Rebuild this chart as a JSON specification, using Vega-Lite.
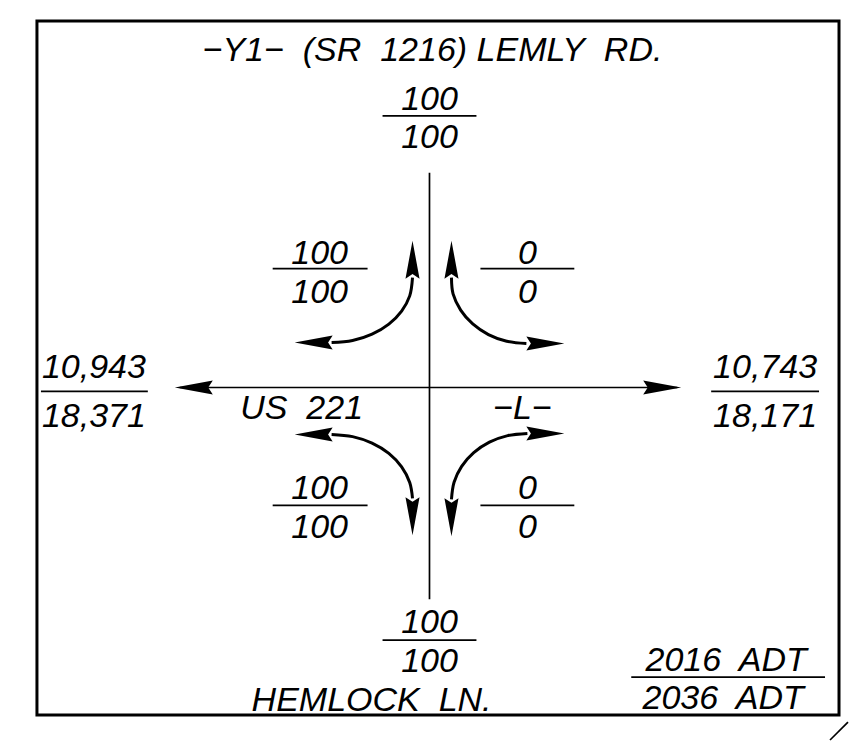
{
  "$schema": "https://vega.github.io/schema/vega-lite/v6.json",
  "width": 849,
  "height": 741,
  "autosize": {"type": "fit", "contains": "padding"},
  "padding": 0,
  "background": "white",
  "config": {"view": {"stroke": null}},
  "datasets": {
    "frame": [{"x0": -393, "x1": 410, "y0": 367, "y1": -328}],
    "segments": [
      {"part": "road N-S", "x": 0, "y": 215, "x2": 0, "y2": -212},
      {"part": "road E-W", "x": -250, "y": 0, "x2": 248, "y2": 0},
      {"part": "bar top", "x": -47, "y": 272, "x2": 47, "y2": 272},
      {"part": "bar NW", "x": -157, "y": 119, "x2": -62, "y2": 119},
      {"part": "bar NE", "x": 51, "y": 119, "x2": 145, "y2": 119},
      {"part": "bar W", "x": -389, "y": -4, "x2": -282, "y2": -4},
      {"part": "bar E", "x": 282, "y": -4, "x2": 390, "y2": -4},
      {"part": "bar SW", "x": -157, "y": -118, "x2": -62, "y2": -118},
      {"part": "bar SE", "x": 51, "y": -118, "x2": 145, "y2": -118},
      {"part": "bar bottom", "x": -47, "y": -253, "x2": 47, "y2": -253},
      {"part": "bar legend", "x": 202, "y": -290, "x2": 396, "y2": -290},
      {"part": "corner", "x": 401, "y": -353, "x2": 419, "y2": -335}
    ],
    "curves": [
      {"c": "NW", "i": 0, "x": -98, "y": 45}, {"c": "NW", "i": 1, "x": -77, "y": 47}, {"c": "NW", "i": 2, "x": -57.5, "y": 53.4}, {"c": "NW", "i": 3, "x": -40.7, "y": 63.5}, {"c": "NW", "i": 4, "x": -27.9, "y": 76.5}, {"c": "NW", "i": 5, "x": -19.8, "y": 91.7}, {"c": "NW", "i": 6, "x": -17, "y": 110},
      {"c": "NE", "i": 0, "x": 97, "y": 44}, {"c": "NE", "i": 1, "x": 77.3, "y": 46.3}, {"c": "NE", "i": 2, "x": 59, "y": 53}, {"c": "NE", "i": 3, "x": 43.3, "y": 63.6}, {"c": "NE", "i": 4, "x": 31.2, "y": 77.5}, {"c": "NE", "i": 5, "x": 23.6, "y": 93.7}, {"c": "NE", "i": 6, "x": 22, "y": 110},
      {"c": "SW", "i": 0, "x": -98, "y": -47}, {"c": "SW", "i": 1, "x": -77, "y": -49.2}, {"c": "SW", "i": 2, "x": -57.5, "y": -55.7}, {"c": "SW", "i": 3, "x": -40.7, "y": -66}, {"c": "SW", "i": 4, "x": -27.9, "y": -79.5}, {"c": "SW", "i": 5, "x": -19.8, "y": -95.2}, {"c": "SW", "i": 6, "x": -17, "y": -111},
      {"c": "SE", "i": 0, "x": 98, "y": -46}, {"c": "SE", "i": 1, "x": 78.3, "y": -48.2}, {"c": "SE", "i": 2, "x": 60, "y": -54.8}, {"c": "SE", "i": 3, "x": 44.3, "y": -65.3}, {"c": "SE", "i": 4, "x": 32.2, "y": -79}, {"c": "SE", "i": 5, "x": 24.6, "y": -94.9}, {"c": "SE", "i": 6, "x": 22, "y": -112}
    ],
    "heads": [
      {"dir": "left", "x": -255, "y": 0}, {"dir": "right", "x": 252, "y": 0},
      {"dir": "left", "x": -135, "y": 45}, {"dir": "up", "x": -17, "y": 147},
      {"dir": "up", "x": 22, "y": 147}, {"dir": "right", "x": 135, "y": 44},
      {"dir": "left", "x": -135, "y": -47}, {"dir": "down", "x": -17, "y": -148},
      {"dir": "right", "x": 135, "y": -46}, {"dir": "down", "x": 22, "y": -149}
    ],
    "labels": [
      {"t": "−Y1−\u00a0 (SR\u00a0 1216) LEMLY\u00a0 RD.", "x": 3, "y": 327},
      {"t": "100", "x": 0, "y": 278}, {"t": "100", "x": 0, "y": 240},
      {"t": "100", "x": -110, "y": 124}, {"t": "100", "x": -110, "y": 85},
      {"t": "0", "x": 98, "y": 124}, {"t": "0", "x": 98, "y": 85},
      {"t": "10,943", "x": -336, "y": 9}, {"t": "18,371", "x": -336, "y": -40},
      {"t": "10,743", "x": 336, "y": 9}, {"t": "18,171", "x": 336, "y": -40},
      {"t": "US\u00a0 221", "x": -128, "y": -32},
      {"t": "−L−", "x": 93, "y": -32},
      {"t": "100", "x": -110, "y": -112}, {"t": "100", "x": -110, "y": -151},
      {"t": "0", "x": 98, "y": -112}, {"t": "0", "x": 98, "y": -151},
      {"t": "100", "x": 0, "y": -246}, {"t": "100", "x": 0, "y": -285},
      {"t": "HEMLOCK\u00a0 LN.", "x": -58, "y": -324},
      {"t": "2016\u00a0 ADT", "x": 297, "y": -284},
      {"t": "2036\u00a0 ADT", "x": 294, "y": -322}
    ]
  },
  "layer": [
    {
      "data": {"name": "frame"},
      "mark": {"type": "rect", "fill": null, "fillOpacity": 0, "stroke": "black", "strokeWidth": 3},
      "encoding": {
        "x": {"field": "x0", "type": "quantitative", "scale": {"domain": [-430, 419], "nice": false, "zero": false}, "axis": null},
        "x2": {"field": "x1"},
        "y": {"field": "y0", "type": "quantitative", "scale": {"domain": [-353, 388], "nice": false, "zero": false}, "axis": null},
        "y2": {"field": "y1"}
      }
    },
    {
      "data": {"name": "segments"},
      "mark": {"type": "rule", "color": "black", "strokeWidth": 1.7},
      "encoding": {
        "x": {"field": "x", "type": "quantitative", "scale": {"domain": [-430, 419], "nice": false, "zero": false}, "axis": null},
        "x2": {"field": "x2"},
        "y": {"field": "y", "type": "quantitative", "scale": {"domain": [-353, 388], "nice": false, "zero": false}, "axis": null},
        "y2": {"field": "y2"}
      }
    },
    {
      "data": {"name": "curves"},
      "mark": {"type": "line", "color": "black", "strokeWidth": 3, "interpolate": "catmull-rom"},
      "encoding": {
        "x": {"field": "x", "type": "quantitative", "scale": {"domain": [-430, 419], "nice": false, "zero": false}, "axis": null},
        "y": {"field": "y", "type": "quantitative", "scale": {"domain": [-353, 388], "nice": false, "zero": false}, "axis": null},
        "detail": {"field": "c", "type": "nominal"},
        "order": {"field": "i", "type": "quantitative"}
      }
    },
    {
      "data": {"name": "heads"},
      "mark": {"type": "point", "filled": true, "color": "black", "opacity": 1, "size": 1444, "strokeWidth": 0},
      "encoding": {
        "x": {"field": "x", "type": "quantitative", "scale": {"domain": [-430, 419], "nice": false, "zero": false}, "axis": null},
        "y": {"field": "y", "type": "quantitative", "scale": {"domain": [-353, 388], "nice": false, "zero": false}, "axis": null},
        "shape": {
          "field": "dir", "type": "nominal", "legend": null,
          "scale": {
            "domain": ["left", "right", "up", "down"],
            "range": [
              "M0,0L2,-0.37L1.76,0L2,0.37Z",
              "M0,0L-2,-0.37L-1.76,0L-2,0.37Z",
              "M0,0L-0.37,2L0,1.76L0.37,2Z",
              "M0,0L-0.37,-2L0,-1.76L0.37,-2Z"
            ]
          }
        }
      }
    },
    {
      "data": {"name": "labels"},
      "mark": {"type": "text", "font": "Liberation Sans", "fontStyle": "italic", "fontSize": 34, "align": "center", "baseline": "alphabetic", "color": "black"},
      "encoding": {
        "x": {"field": "x", "type": "quantitative", "scale": {"domain": [-430, 419], "nice": false, "zero": false}, "axis": null},
        "y": {"field": "y", "type": "quantitative", "scale": {"domain": [-353, 388], "nice": false, "zero": false}, "axis": null},
        "text": {"field": "t", "type": "nominal"}
      }
    }
  ]
}
